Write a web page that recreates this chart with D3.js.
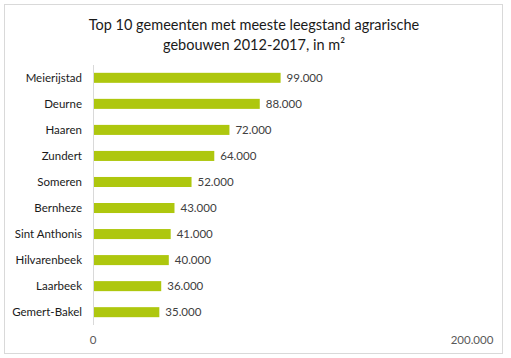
<!DOCTYPE html>
<html><head><meta charset="utf-8">
<script src="https://cdnjs.cloudflare.com/ajax/libs/d3/7.8.5/d3.min.js"></script>
<style>body{margin:0;background:#fff}svg{display:block}</style>
</head><body>
<svg id="c" width="511" height="358"></svg>
<script>
const categories = ["Meierijstad","Deurne","Haaren","Zundert","Someren","Bernheze","Sint Anthonis","Hilvarenbeek","Laarbeek","Gemert-Bakel"];
const values = [99000,88000,72000,64000,52000,43000,41000,40000,36000,35000];
const tickValues = [0,200000];
const titleLines = ["Top 10 gemeenten met meeste leegstand agrarische","gebouwen 2012-2017, in m²"];

const svg = d3.select("#c");
const font = "Lato, 'Open Sans', sans-serif";
svg.append("rect").attr("x",4.5).attr("y",4.5).attr("width",498).attr("height",349)
  .attr("fill","#fff").attr("stroke","#d9d9d9");

const x = d3.scaleLinear().domain([0,200000]).range([93,472]);
const y = d3.scaleBand().domain(categories).range([65,325]).paddingInner(0.615).paddingOuter(0.3);

svg.selectAll("text.t").data(titleLines).join("text").attr("class","t")
  .attr("x",254).attr("y",(d,i)=>30+i*20).attr("text-anchor","middle")
  .attr("font-family",font).attr("font-size",14.5).attr("fill","#1a1a1a").text(d=>d);

svg.selectAll("rect.b").data(values).join("rect").attr("class","b")
  .attr("x",x(0)).attr("y",(d,i)=>y(categories[i])).attr("width",d=>x(d)-x(0))
  .attr("height",y.bandwidth()).attr("fill","#aec70e");

svg.append("line").attr("x1",x(0)+0.5).attr("x2",x(0)+0.5).attr("y1",65).attr("y2",325)
  .attr("stroke","#d9d9d9");

svg.selectAll("text.c").data(categories).join("text").attr("class","c")
  .attr("x",82).attr("y",d=>y(d)+y.bandwidth()/2).attr("dy","0.35em").attr("text-anchor","end")
  .attr("font-family",font).attr("font-size",11.5).attr("fill","#1a1a1a").text(d=>d);

const fmt = v => d3.format(",")(v).replace(/,/g,".");
svg.selectAll("text.v").data(values).join("text").attr("class","v")
  .attr("x",d=>x(d)+6).attr("y",(d,i)=>y(categories[i])+y.bandwidth()/2).attr("dy","0.35em")
  .attr("font-family",font).attr("font-size",11.5).attr("fill","#404040").text(fmt);

svg.selectAll("text.k").data(tickValues).join("text").attr("class","k")
  .attr("x",d=>x(d)).attr("y",340).attr("dy","0.35em").attr("text-anchor","middle")
  .attr("font-family",font).attr("font-size",11.5).attr("fill","#595959").text(fmt);
</script>
</body></html>
